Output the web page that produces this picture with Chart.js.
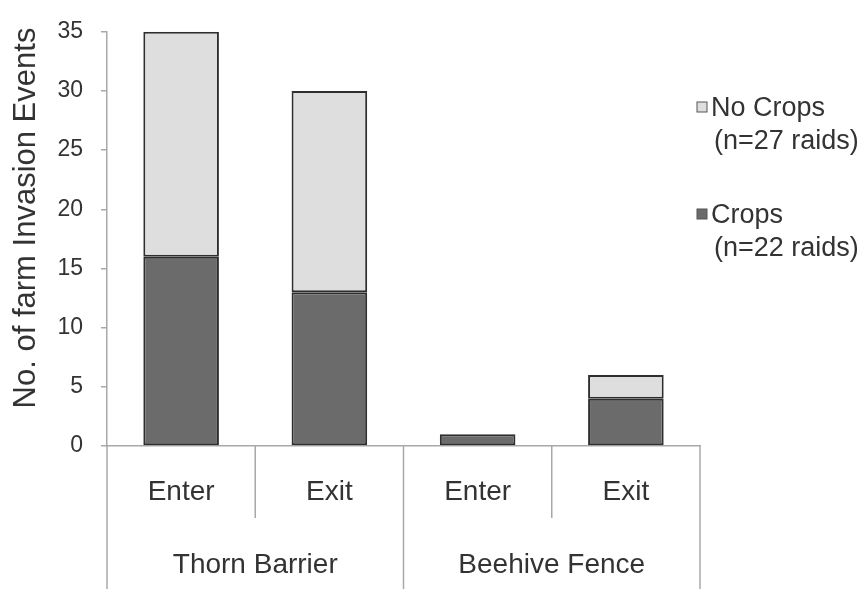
<!DOCTYPE html>
<html>
<head>
<meta charset="utf-8">
<script src="https://cdn.jsdelivr.net/npm/chart.js@4/dist/chart.umd.min.js"></script>
<style>
  html, body { margin: 0; padding: 0; background: #fff; }
  #wrap { width: 860px; height: 589px; }
</style>
</head>
<body>
<div id="wrap"><canvas id="c" width="860" height="589"></canvas></div>
<script>
const categories = ['Enter', 'Exit', 'Enter', 'Exit'];
const groups = ['Thorn Barrier', 'Beehive Fence'];
const crops = [16, 13, 1, 4];
const noCrops = [19, 17, 0, 2];
const yMax = 35;
const yStep = 5;
const legendNoCrops = ['No Crops', '(n=27 raids)'];
const legendCrops = ['Crops', '(n=22 raids)'];

const darkFill = '#6b6b6b';
const lightFill = '#dedede';
const axisGrey = '#a8a8a8';
const textCol = '#333333';
const font = 'Liberation Sans, Arial, sans-serif';

// separators under the x axis, group labels, y title and the legend
const decor = {
  id: 'decor',
  afterDraw(chart) {
    const ctx = chart.ctx;
    const a = chart.chartArea;
    const x = chart.scales.x;
    const half = (x.getPixelForValue(1) - x.getPixelForValue(0)) / 2;

    ctx.save();
    ctx.strokeStyle = axisGrey;
    ctx.lineWidth = 1.5;
    for (let i = 0; i <= categories.length; i++) {
      let px = i < categories.length ? x.getPixelForValue(i) - half : x.getPixelForValue(i - 1) + half;
      let bottom = (i % 2 == 0) ? chart.height : a.bottom + 72;
      ctx.beginPath();
      ctx.moveTo(px, a.bottom);
      ctx.lineTo(px, bottom);
      ctx.stroke();
    }

    ctx.fillStyle = textCol;
    ctx.font = '28px ' + font;
    ctx.textAlign = 'center';
    ctx.textBaseline = 'middle';
    groups.forEach((g, gi) => {
      let cx = (x.getPixelForValue(gi * 2) + x.getPixelForValue(gi * 2 + 1)) / 2;
      ctx.fillText(g, cx, 565);
    });

    // y axis title
    ctx.save();
    ctx.translate(35, 218);
    ctx.rotate(-Math.PI / 2);
    ctx.font = '31px ' + font;
    ctx.textBaseline = 'alphabetic';
    ctx.fillText('No. of farm Invasion Events', 0, 0);
    ctx.restore();

    // legend
    const entries = [
      { lines: legendNoCrops, fill: lightFill, y: 109 },
      { lines: legendCrops, fill: darkFill, y: 216 }
    ];
    ctx.font = '27px ' + font;
    ctx.textAlign = 'left';
    entries.forEach(en => {
      ctx.fillStyle = en.fill;
      ctx.fillRect(697, en.y - 7, 10, 10);
      ctx.strokeStyle = '#555';
      ctx.lineWidth = 1;
      ctx.strokeRect(697, en.y - 7, 10, 10);
      ctx.fillStyle = textCol;
      ctx.fillText(en.lines[0], 711, en.y);
      ctx.fillText(en.lines[1], 714, en.y + 33);
    });
    ctx.restore();
  }
};

new Chart(document.getElementById('c'), {
  type: 'bar',
  data: {
    labels: categories,
    datasets: [
      {
        label: 'Crops',
        data: crops,
        backgroundColor: darkFill,
        borderColor: '#2e2e2e',
        borderWidth: 2,
        borderSkipped: false
      },
      {
        label: 'No Crops',
        data: noCrops,
        backgroundColor: lightFill,
        borderColor: '#2e2e2e',
        borderWidth: 2,
        borderSkipped: false
      }
    ]
  },
  options: {
    responsive: false,
    animation: false,
    layout: { padding: { top: 25, right: 160, bottom: 0, left: 0 } },
    categoryPercentage: 1,
    barPercentage: 0.51,
    plugins: {
      legend: { display: false },
      tooltip: { enabled: false }
    },
    scales: {
      x: {
        stacked: true,
        afterFit: s => { s.height = 143; },
        grid: { display: false },
        border: { color: axisGrey, width: 1.5 },
        ticks: { color: textCol, font: { family: font, size: 28 }, padding: 21, maxRotation: 0 }
      },
      y: {
        stacked: true,
        min: 0,
        max: yMax,
        afterFit: s => { s.width = 107; },
        grid: { drawOnChartArea: false, drawTicks: true, tickLength: 6, color: axisGrey, lineWidth: 1.5 },
        border: { color: axisGrey, width: 1.5 },
        ticks: { stepSize: yStep, color: textCol, font: { family: font, size: 23 }, padding: 18 }
      }
    }
  },
  plugins: [decor]
});
</script>
</body>
</html>
